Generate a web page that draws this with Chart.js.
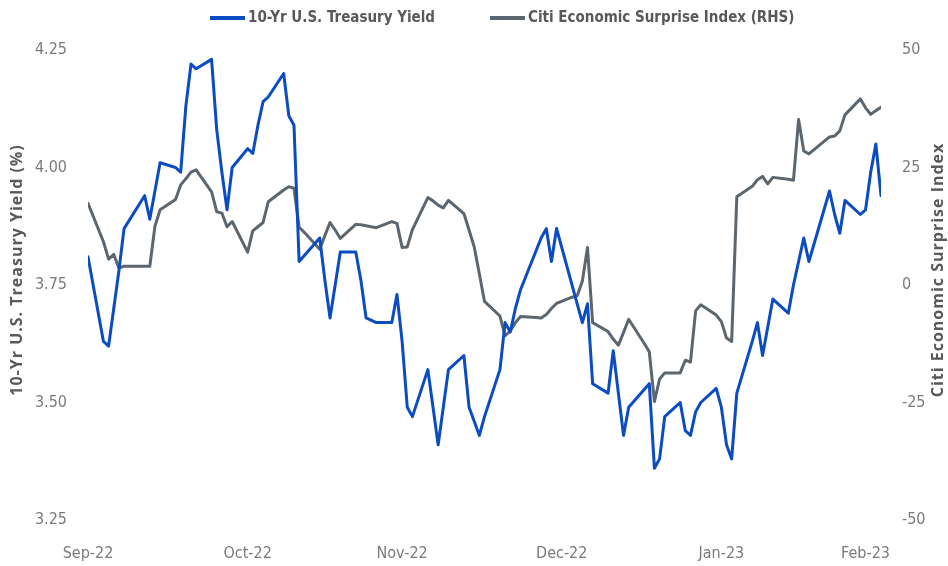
<!DOCTYPE html>
<html>
<head>
<meta charset="utf-8">
<script src="https://cdn.jsdelivr.net/npm/chart.js@4.4.1/dist/chart.umd.min.js"></script>
<style>
    html, body { margin: 0; padding: 0; background: #fff; }
    #wrap { width: 948px; height: 566px; position: relative; }
</style>
</head>
<body>
<div id="wrap"><canvas id="chart"></canvas></div>
<script>
// trading days, one week per line
const dates = [
    '2022-09-30',
    '2022-10-03', '2022-10-04', '2022-10-05', '2022-10-06', '2022-10-07',
    '2022-10-10', '2022-10-11', '2022-10-12', '2022-10-13', '2022-10-14',
    '2022-10-17', '2022-10-18', '2022-10-19', '2022-10-20', '2022-10-21',
    '2022-10-24', '2022-10-25', '2022-10-26', '2022-10-27', '2022-10-28',
    '2022-10-31', '2022-11-01', '2022-11-02', '2022-11-03', '2022-11-04',
    '2022-11-07', '2022-11-08', '2022-11-09', '2022-11-10', '2022-11-11',
    '2022-11-14', '2022-11-15', '2022-11-16', '2022-11-17', '2022-11-18',
    '2022-11-21', '2022-11-22', '2022-11-23', '2022-11-24', '2022-11-25',
    '2022-11-28', '2022-11-29', '2022-11-30', '2022-12-01', '2022-12-02',
    '2022-12-05', '2022-12-06', '2022-12-07', '2022-12-08', '2022-12-09',
    '2022-12-12', '2022-12-13', '2022-12-14', '2022-12-15', '2022-12-16',
    '2022-12-19', '2022-12-20', '2022-12-21', '2022-12-22', '2022-12-23',
    '2022-12-26', '2022-12-27', '2022-12-28', '2022-12-29', '2022-12-30',
    '2023-01-02', '2023-01-03', '2023-01-04', '2023-01-05', '2023-01-06',
    '2023-01-09', '2023-01-10', '2023-01-11', '2023-01-12', '2023-01-13',
    '2023-01-16', '2023-01-17', '2023-01-18', '2023-01-19', '2023-01-20',
    '2023-01-23', '2023-01-24', '2023-01-25', '2023-01-26', '2023-01-27',
    '2023-01-30', '2023-01-31', '2023-02-01', '2023-02-02', '2023-02-03',
    '2023-02-06', '2023-02-07', '2023-02-08', '2023-02-09', '2023-02-10',
    '2023-02-13', '2023-02-14', '2023-02-15', '2023-02-16', '2023-02-17',
    '2023-02-20', '2023-02-21', '2023-02-22', '2023-02-23', '2023-02-24',
    '2023-02-27', '2023-02-28', '2023-03-01', '2023-03-02', '2023-03-03'
];

// null = bond market closed
const treasuryYield = [
    3.81,
    3.63, 3.62, 3.70, 3.78, 3.87,
    null, 3.94, 3.89, 3.95, 4.01,
    4.00, 3.99, 4.13, 4.22, 4.21,
    4.23, 4.08, 3.99, 3.91, 4.00,
    4.04, 4.03, 4.09, 4.14, 4.15,
    4.20, 4.11, 4.09, 3.80, null,
    3.85, 3.76, 3.68, 3.75, 3.82,
    3.82, 3.76, 3.68, null, 3.67,
    3.67, 3.73, 3.63, 3.49, 3.47,
    3.57, 3.49, 3.41, 3.49, 3.57,
    3.60, 3.49, 3.46, 3.43, 3.47,
    3.57, 3.67, 3.65, 3.70, 3.74,
    null, 3.85, 3.87, 3.80, 3.87,
    null, 3.71, 3.67, 3.71, 3.54,
    3.52, 3.61, 3.52, 3.43, 3.49,
    null, 3.54, 3.36, 3.38, 3.47,
    3.50, 3.44, 3.43, 3.48, 3.50,
    3.53, 3.49, 3.41, 3.38, 3.52,
    3.63, 3.67, 3.60, 3.66, 3.72,
    3.69, 3.75, 3.80, 3.85, 3.80,
    null, 3.95, 3.90, 3.86, 3.93,
    3.90, 3.91, 3.99, 4.05, 3.94
];

const surpriseIndex = [
    17.4,
    9.2, 5.5, 6.5, 3.6, 4.0,
    4.0, 4.0, 4.0, 12.5, 16.0,
    18.2, 21.3, 22.6, 24.0, 24.5,
    19.8, 15.6, 15.3, 12.4, 13.5,
    7.0, 11.5, 12.4, 13.3, 17.7,
    20.2, 20.9, 20.6, 12.3, 11.2,
    7.6, 10.5, 13.3, 11.7, 9.9,
    12.9, 12.8, 12.6, 12.4, 12.2,
    13.5, 13.1, 8.0, 8.1, 11.8,
    18.6, 17.9, 17.0, 16.4, 18.0,
    15.2, 11.7, 8.1, 2.4, -3.5,
    -6.6, -10.8, -9.8, -8.0, -6.7,
    -6.9, -7.0, -6.3, -5.0, -3.9,
    -2.6, -2.3, 0.8, 8.0, -8.0,
    -9.9, -11.5, -12.8, -10.1, -7.3,
    -12.4, -14.2, -24.8, -20.0, -18.7,
    -18.7, -16.0, -16.4, -5.5, -4.2,
    -6.4, -7.8, -11.3, -12.0, 18.8,
    21.0, 22.4, 23.1, 21.5, 22.9,
    22.5, 22.3, 35.2, 28.5, 27.9,
    30.6, 31.5, 31.7, 32.8, 36.2,
    39.6, 37.7, 36.3, 37.1, 37.8
];

const tickDates = ['2022-09-30', '2022-10-31', '2022-11-30', '2022-12-31', '2023-01-31', '2023-02-28'];
const tickLabels = ['Sep-22', 'Oct-22', 'Nov-22', 'Dec-22', 'Jan-23', 'Feb-23'];
const yieldTicks = [3.25, 3.50, 3.75, 4.00, 4.25];
const surpriseTicks = [-50, -25, 0, 25, 50];

const seriesNames = ['10-Yr U.S. Treasury Yield', 'Citi Economic Surprise Index (RHS)'];
const axisTitles = ['10-Yr U.S. Treasury Yield (%)', 'Citi Economic Surprise Index'];
const seriesColors = ['#0b4cc2', '#5c666e'];

const narrowFont = "'Liberation Sans Narrow', 'DejaVu Sans Condensed', 'Roboto', sans-serif";
const titleFont = "'Open Sans', 'DejaVu Sans', sans-serif";
const dayMs = 24 * 60 * 60 * 1000;

function dayNum(s) {
    return (Date.parse(s) - Date.parse(dates[0])) / dayMs;
}

function toPoints(values) {
    return dates.map((d, i) => ({ x: dayNum(d), y: values[i] }));
}

// legend and axis titles, drawn by hand so they sit where the original has them
const decorations = {
    id: 'decorations',
    afterDraw(chart) {
        const ctx = chart.ctx;
        ctx.save();

        // legend
        ctx.font = "bold 15px " + narrowFont;
        ctx.textBaseline = 'middle';
        ctx.textAlign = 'left';
        const legendX = [210, 490];
        seriesNames.forEach((name, i) => {
            ctx.fillStyle = seriesColors[i];
            ctx.fillRect(legendX[i], 16, 35, 4);
            ctx.fillStyle = '#595959';
            ctx.fillText(name, legendX[i] + 38, 18);
        });

        // axis titles, both read bottom to top
        ctx.font = "bold 16px " + titleFont;
        ctx.letterSpacing = '1px';
        ctx.fillStyle = '#595959';
        ctx.textAlign = 'center';
        const midY = 270;
        [17, 938].forEach((x, i) => {
            ctx.save();
            ctx.translate(x, midY);
            ctx.rotate(-Math.PI / 2);
            ctx.fillText(axisTitles[i], 0, 0);
            ctx.restore();
        });

        ctx.restore();
    }
};

const tickFont = { family: narrowFont, size: 16 };

const chart = new Chart(document.getElementById('chart'), {
    type: 'line',
    data: {
        datasets: [
            {
                label: seriesNames[0],
                data: toPoints(treasuryYield),
                yAxisID: 'y',
                borderColor: seriesColors[0],
                backgroundColor: seriesColors[0],
                borderWidth: 3,
                pointRadius: 0,
                tension: 0,
                spanGaps: true,
                borderJoinStyle: 'round',
                borderCapStyle: 'round',
            },
            {
                label: seriesNames[1],
                data: toPoints(surpriseIndex),
                yAxisID: 'y1',
                borderColor: seriesColors[1],
                backgroundColor: seriesColors[1],
                borderWidth: 3,
                pointRadius: 0,
                tension: 0,
                spanGaps: true,
                borderJoinStyle: 'round',
                borderCapStyle: 'round',
            },
        ],
    },
    options: {
        animation: false,
        responsive: true,
        maintainAspectRatio: false,
        layout: { padding: { top: 50, left: 0, right: 0, bottom: 0 } },
        plugins: {
            legend: { display: false },
            tooltip: { enabled: false },
        },
        scales: {
            x: {
                type: 'linear',
                min: 0,
                max: dayNum(dates[dates.length - 1]),
                grid: { display: false, drawTicks: false },
                border: { display: false },
                afterBuildTicks: (axis) => {
                    axis.ticks = tickDates.map(d => ({ value: dayNum(d) }));
                },
                afterFit: (axis) => { axis.height = 46; },
                ticks: {
                    autoSkip: false,
                    maxRotation: 0,
                    padding: 24,
                    color: '#7a7a7a',
                    font: tickFont,
                    callback: (value, index) => tickLabels[index],
                },
            },
            y: {
                position: 'left',
                min: 3.25,
                max: 4.25,
                grid: { display: false, drawTicks: false },
                border: { display: false },
                afterBuildTicks: (axis) => {
                    axis.ticks = yieldTicks.map(v => ({ value: v }));
                },
                afterFit: (axis) => { axis.width = 88; },
                ticks: {
                    padding: 21,
                    color: '#7a7a7a',
                    font: tickFont,
                    callback: (value) => value.toFixed(2),
                },
            },
            y1: {
                position: 'right',
                min: -50,
                max: 50,
                grid: { display: false, drawTicks: false },
                border: { display: false },
                afterBuildTicks: (axis) => {
                    axis.ticks = surpriseTicks.map(v => ({ value: v }));
                },
                afterFit: (axis) => { axis.width = 67; },
                ticks: {
                    padding: 21,
                    color: '#7a7a7a',
                    font: tickFont,
                    callback: (value) => String(value),
                },
            },
        },
    },
    plugins: [decorations],
});
</script>
</body>
</html>
